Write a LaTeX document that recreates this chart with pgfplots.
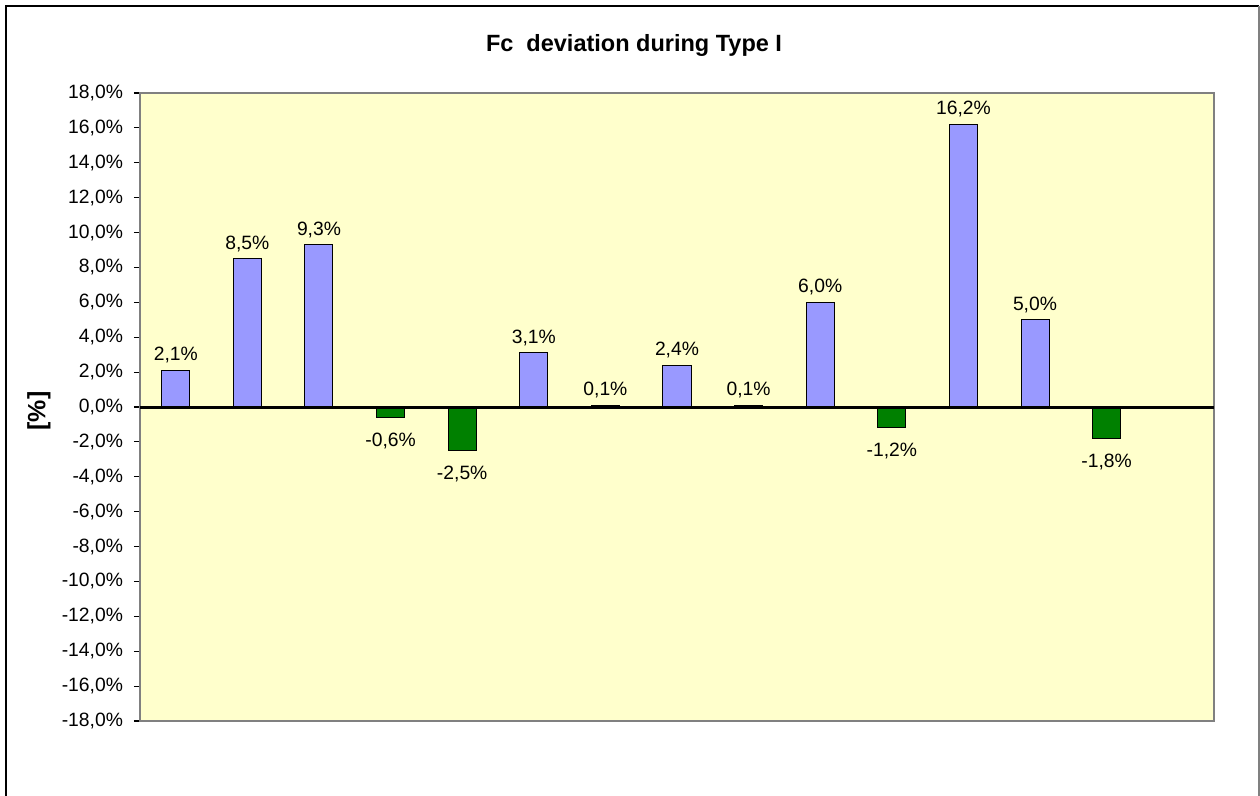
\documentclass[border=0pt]{standalone}
\usepackage{fontspec}
\setmainfont{Liberation Sans}
\usepackage{pgfplots}
\pgfplotsset{compat=1.18}

\definecolor{barblue}{HTML}{9999FF}
\definecolor{bargreen}{HTML}{008000}
\definecolor{plotbg}{HTML}{FFFFCC}
\definecolor{framegray}{HTML}{808080}

\begin{document}
\begin{tikzpicture}
% page area
\useasboundingbox (-70pt,-37.5pt) rectangle (560pt,360.5pt);
% chart area frame (open at the bottom)
\draw[black, line width=0.8pt] (-67pt,-45pt) -- (-67pt,357.5pt) -- (559.5pt,357.5pt);
\draw[gray, line width=0.8pt] (559.5pt,357.5pt) -- (559.5pt,-45pt);

\begin{axis}[
  at={(0pt,0pt)}, anchor=south west,
  width=537pt, height=314pt, scale only axis,
  xmin=0.5, xmax=15.5, ymin=-18, ymax=18,
  xtick=\empty,
  ytick={-18,-16,...,18},
  axis y line*=left, axis x line=none,
  y axis line style={black, line width=0.6pt},
  tick align=outside, major tick length=3pt,
  ytick style={black, line width=0.6pt},
  axis background/.style={fill=plotbg},
  /pgf/number format/assume math mode=true,
  yticklabel={\pgfmathprintnumber[fixed,fixed zerofill,precision=1,use comma]{\tick}\%},
  ticklabel style={font=\fontsize{9.65pt}{11pt}\selectfont},
  yticklabel style={xshift=-2pt},
  ybar, bar width=14pt, bar shift=0pt,
  nodes near coords={\pgfmathprintnumber[fixed,fixed zerofill,precision=1,use comma,assume math mode=true]{\pgfplotspointmeta}\%},
  every node near coord/.append style={font=\fontsize{9.65pt}{11pt}\selectfont, black},
  clip=false,
]
% plot area frame
\draw[framegray, line width=0.8pt] (rel axis cs:0,0) rectangle (rel axis cs:1,1);

% positive deviations
\addplot[fill=barblue, draw=black, line width=0.5pt] coordinates {
  (1,2.1) (2,8.5) (3,9.3) (6,3.1) (7,0.1) (8,2.4) (9,0.1) (10,6.0) (12,16.2) (13,5.0)
};
% negative deviations, labels set a little further below the bars
\addplot[fill=bargreen, draw=black, line width=0.5pt,
  every node near coord/.append style={yshift=-4pt}] coordinates {
  (4,-0.6) (5,-2.5) (11,-1.2) (14,-1.8)
};

% zero line
\draw[black, line width=1.5pt, yshift=-0.4pt] (axis cs:0.5,0) -- (axis cs:15.5,0);
\end{axis}

\node[font=\bfseries\fontsize{11.75pt}{14pt}\selectfont, anchor=base] at (247pt,334.5pt) {Fc\ \ deviation during Type I};
\node[font=\bfseries\fontsize{12.5pt}{14pt}\selectfont, rotate=90] at (-50.5pt,155pt) {[\%]};
\end{tikzpicture}
\end{document}
